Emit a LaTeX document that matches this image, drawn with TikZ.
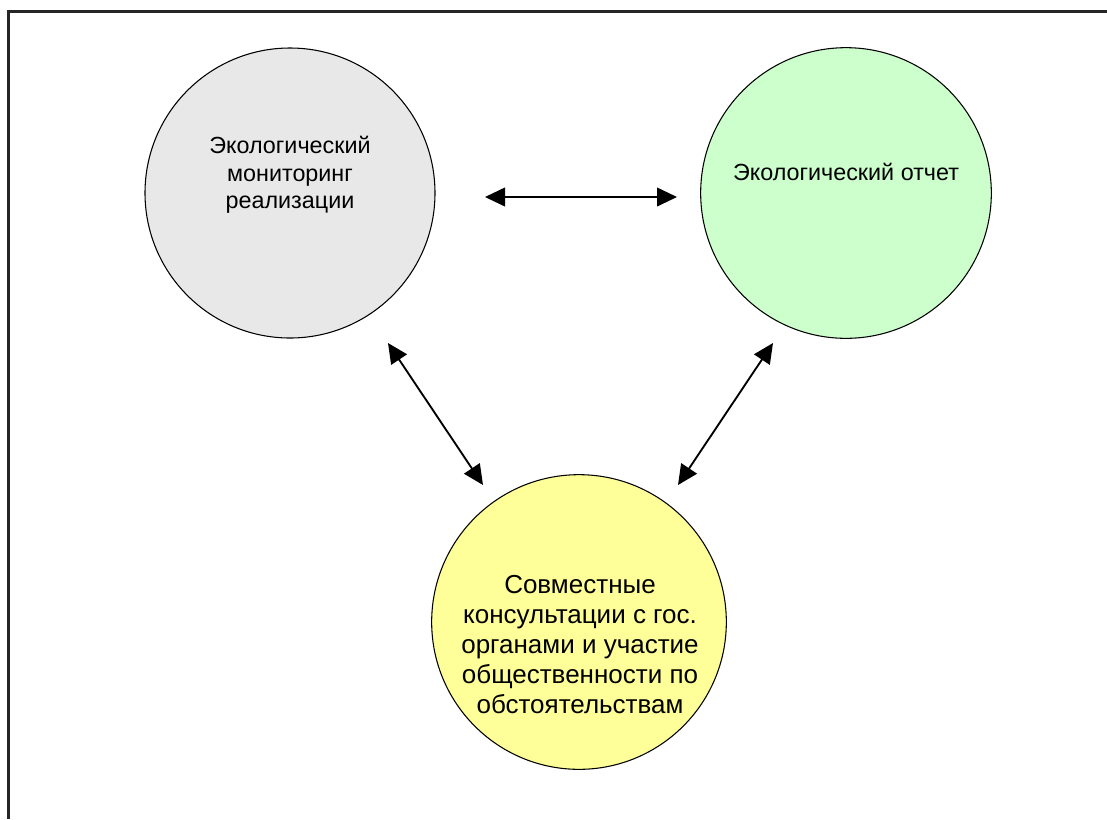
\documentclass[tikz,border=0pt]{standalone}
\usepackage{fontspec}
\setmainfont{Liberation Sans}
\usetikzlibrary{arrows.meta}
\usetikzlibrary{calc}
\definecolor{monfill}{HTML}{E8E8E8}
\definecolor{repfill}{HTML}{CCFFCC}
\definecolor{consfill}{HTML}{FFFF99}

\begin{document}
\begin{tikzpicture}[x=0.75pt, y=-0.75pt,
    blob/.style={draw, circle, inner sep=0, outer sep=0, line width=0.8pt},
    txt/.style={align=center, text=black, font=\fontsize{17.5}{20.6}\selectfont},
    bigtxt/.style={align=center, text=black, font=\fontsize{19.5}{22.5}\selectfont},
    both/.style={{Triangle[length=15pt,width=14pt]}-{Triangle[length=15pt,width=14pt]}, line width=1.4pt}]
            \useasboundingbox (0,0) rectangle (1107,819);
            \draw[line width=1.6pt, black!85] (8.5,819) -- (8.5,11.5) -- (1107,11.5);
            % circles
            \node[blob, fill=monfill, minimum size=217.5pt] (mon) at (290,193) {};
            \node[blob, fill=repfill, minimum size=218pt] (rep) at (846,193) {};
            \node[blob, fill=consfill, minimum size=221pt] (cons) at (579,622) {};
            \node[txt] (monT) at (290,175) {Экологический\\мониторинг\\реализации};
            \node[txt] (repT) at (846,172) {Экологический отчет};
            \node[bigtxt] (consT) at (580,645) {Совместные\\консультации с гос.\\органами и участие\\общественности по\\обстоятельствам};
            % arrow ends
            \coordinate (h1) at (485,197);
            \coordinate (h2) at (677,197);
            \coordinate (l1) at (388,343);
            \coordinate (l2) at (483,485);
            \coordinate (r1) at (773,343);
            \coordinate (r2) at (678,485);
            \draw[both] (h1) -- (h2);
            \draw[both] (l1) -- (l2);
            \draw[both] (r1) -- (r2);
        \end{tikzpicture}
\end{document}
